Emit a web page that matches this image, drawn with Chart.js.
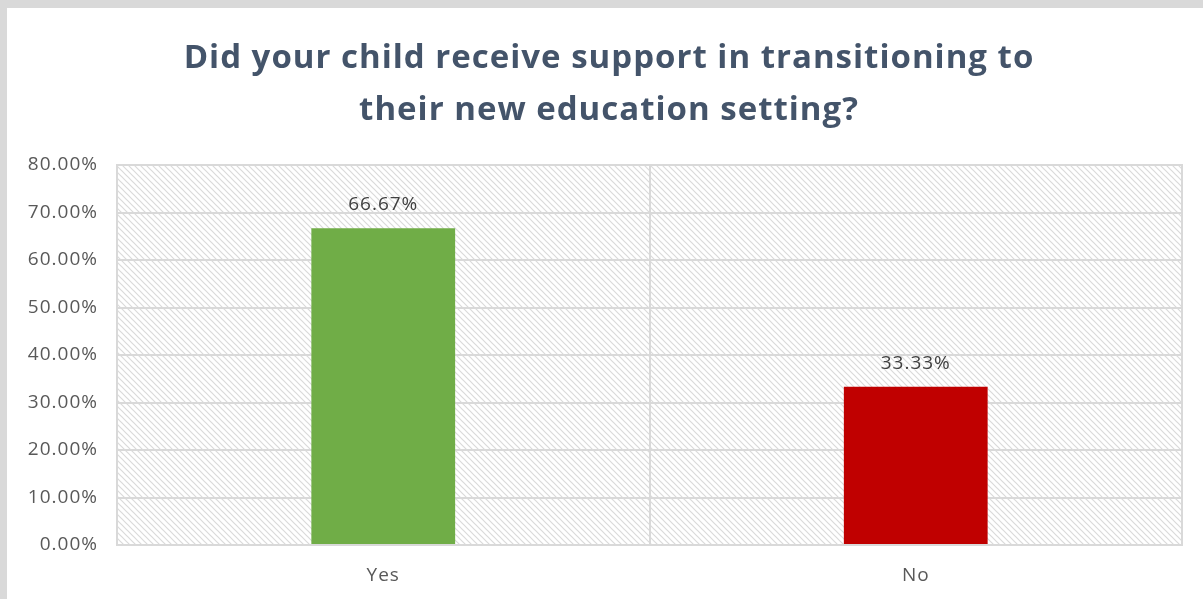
<!DOCTYPE html>
<html>
<head>
<meta charset="utf-8">
<script src="https://cdn.jsdelivr.net/npm/chart.js@4"></script>
<style>
  html, body { margin: 0; padding: 0; background: #d9d9d9; }
  #frame {
    position: absolute; left: 7px; top: 8px;
    width: 1196px; height: 591px; background: #ffffff;
  }
  canvas { display: block; }
</style>
</head>
<body>
<div id="frame"><canvas id="chart" width="1196" height="591"></canvas></div>
<script>
// Survey answers and their share of responses (percent)
const categories = ['Yes', 'No'];
const shares = [66.67, 33.33];
const barColors = ['#70ad47', '#c00000'];
const titleLines = ['Did your child receive support in transitioning to', 'their new education setting?'];
const yMax = 80;
const yStep = 10;

const FONT = '"Open Sans", "Liberation Sans", sans-serif';

// Light diagonal hatch used behind the plot area
function makeHatch() {
  const size = 6;
  const c = document.createElement('canvas');
  c.width = size; c.height = size;
  const g = c.getContext('2d');
  g.fillStyle = '#ffffff';
  g.fillRect(0, 0, size, size);
  g.strokeStyle = '#dadada';
  g.lineWidth = 1.2;
  g.beginPath();
  g.moveTo(-1, -1); g.lineTo(size + 1, size + 1);
  g.moveTo(-1, size - 1); g.lineTo(1, size + 1);
  g.moveTo(size - 1, -1); g.lineTo(size + 1, 1);
  g.stroke();
  return g.createPattern(c, 'repeat');
}

// Slightly open letter spacing for all chart text
const textSpacing = {
  id: 'textSpacing',
  beforeUpdate(chart) { chart.ctx.letterSpacing = '1px'; },
  beforeDraw(chart) { chart.ctx.letterSpacing = '1px'; }
};

const hatchBackground = {
  id: 'hatchBackground',
  beforeDraw(chart) {
    const { ctx, chartArea: a } = chart;
    ctx.save();
    ctx.fillStyle = makeHatch();
    ctx.fillRect(a.left, a.top, a.right - a.left, a.bottom - a.top);
    ctx.restore();
  }
};

const chartTitle = {
  id: 'chartTitle',
  afterDraw(chart) {
    const { ctx } = chart;
    ctx.save();
    ctx.letterSpacing = '1px';
    ctx.fillStyle = '#44546a';
    ctx.font = 'bold 33px ' + FONT;
    ctx.textAlign = 'center';
    ctx.textBaseline = 'middle';
    const cx = chart.width / 2 + 4;
    titleLines.forEach((line, i) => ctx.fillText(line, cx, 51 + i * 52));
    ctx.restore();
  }
};

const plotBorder = {
  id: 'plotBorder',
  afterDatasetsDraw(chart) {
    const { ctx, chartArea: a } = chart;
    ctx.save();
    ctx.strokeStyle = '#d9d9d9';
    ctx.lineWidth = 2;
    ctx.strokeRect(a.left, a.top, a.right - a.left, a.bottom - a.top);
    ctx.restore();
  }
};

const valueLabels = {
  id: 'valueLabels',
  afterDatasetsDraw(chart) {
    const { ctx } = chart;
    const meta = chart.getDatasetMeta(0);
    const data = chart.data.datasets[0].data;
    ctx.save();
    ctx.letterSpacing = '1px';
    ctx.fillStyle = '#404040';
    ctx.font = '19px ' + FONT;
    ctx.textAlign = 'center';
    ctx.textBaseline = 'bottom';
    meta.data.forEach((bar, i) => {
      ctx.fillText(data[i].toFixed(2) + '%', bar.x, bar.y - 14);
    });
    ctx.restore();
  }
};

new Chart(document.getElementById('chart'), {
  type: 'bar',
  data: {
    labels: categories,
    datasets: [{
      data: shares,
      backgroundColor: barColors,
      borderWidth: 0,
      barPercentage: 0.27,
      categoryPercentage: 1
    }]
  },
  options: {
    responsive: false,
    animation: false,
    layout: { padding: { top: 157, right: 21, left: 0, bottom: 0 } },
    plugins: { legend: { display: false }, tooltip: { enabled: false }, title: { display: false } },
    scales: {
      x: {
        offset: true,
        grid: { display: true, offset: true, color: '#d9d9d9', lineWidth: 2, drawTicks: false },
        border: { display: false },
        ticks: { color: '#595959', font: { family: FONT, size: 19 }, padding: 19 },
        afterFit(scale) { scale.height = 54; }
      },
      y: {
        min: 0,
        max: yMax,
        grid: { color: '#d9d9d9', lineWidth: 2, drawTicks: false },
        border: { display: false },
        ticks: {
          stepSize: yStep,
          color: '#595959',
          font: { family: FONT, size: 19 },
          padding: 19,
          callback: v => v.toFixed(2) + '%'
        },
        afterFit(scale) { scale.width = 110; }
      }
    }
  },
  plugins: [textSpacing, hatchBackground, plotBorder, valueLabels, chartTitle]
});
</script>
</body>
</html>
